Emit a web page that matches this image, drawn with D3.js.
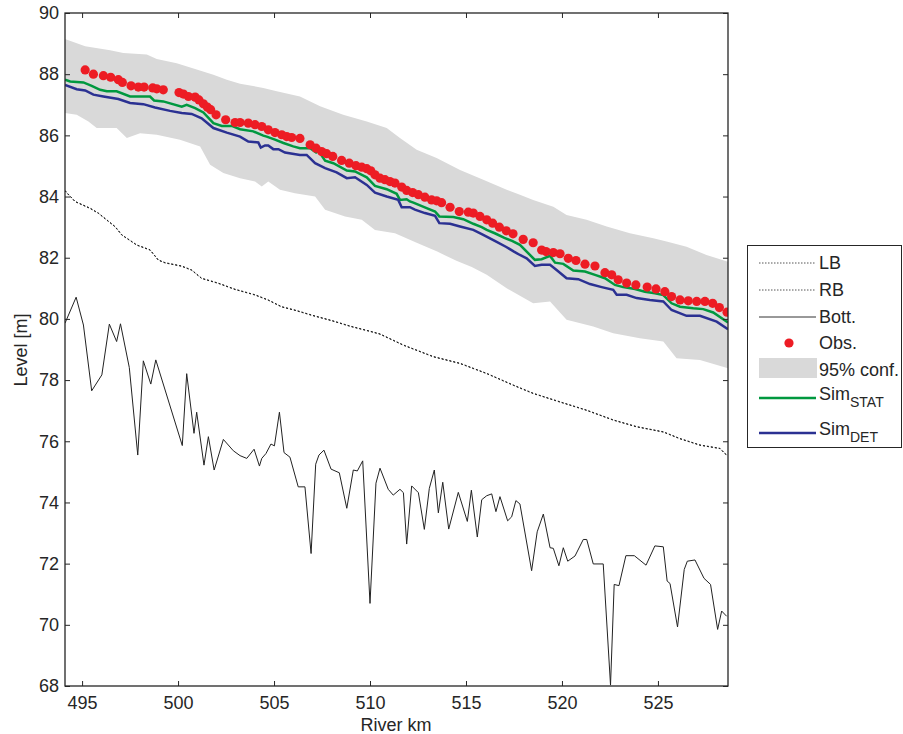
<!DOCTYPE html>
<html><head><meta charset="utf-8">
<script src="https://cdn.jsdelivr.net/npm/d3@7"></script>
<style>body{margin:0;background:#fff;} svg{display:block;font-family:"Liberation Sans",Arial,sans-serif;}</style>
</head><body><div id="chart"></div>
<script>
// ---- data ----
const xTicks = [495, 500, 505, 510, 515, 520, 525];
const yTicks = [68, 70, 72, 74, 76, 78, 80, 82, 84, 86, 88, 90];

const bottKm = [494.11,494.69,495.07,495.5,496.03,496.42,496.8,497.0,497.46,497.9,498.19,498.58,498.84,500.22,500.45,500.83,500.97,501.35,501.58,501.88,502.36,502.88,503.23,503.58,503.96,504.24,504.36,504.58,504.84,505.02,505.28,505.52,505.83,506.26,506.61,506.93,507.17,507.34,507.6,507.97,508.4,508.79,509.13,509.34,509.62,510.0,510.31,510.52,510.95,511.21,511.56,511.74,511.91,512.17,512.52,512.83,513.09,513.35,513.56,513.79,514.1,514.6,515.07,515.28,515.59,515.82,516.08,516.34,516.56,516.77,517.17,517.38,517.6,517.81,518.42,518.71,519.03,519.38,519.55,519.84,520.07,520.3,520.68,521.11,521.29,521.63,522.15,522.53,522.72,522.97,523.33,523.77,524.38,524.84,525.28,525.48,525.63,526.02,526.37,526.53,526.93,527.4,527.74,528.11,528.32,528.58];
const bottLevel = [79.86,80.71,79.8,77.65,78.17,79.83,79.26,79.84,78.41,75.55,78.63,77.87,78.66,75.86,78.21,76.26,76.95,75.22,76.15,75.06,76.06,75.69,75.53,75.44,75.74,75.19,75.44,75.6,75.91,75.85,76.95,75.63,75.48,74.51,74.51,72.33,75.25,75.55,75.71,75.09,74.97,73.81,75.06,75.03,75.36,70.7,74.63,75.12,74.43,74.24,74.43,74.32,72.64,74.54,74.32,73.12,74.46,75.06,73.66,74.66,73.13,74.33,73.38,74.4,72.87,74.09,74.22,74.28,73.7,74.19,73.4,73.53,74.06,73.95,71.77,73.04,73.62,72.52,72.5,71.93,72.52,72.08,72.25,72.79,72.79,71.99,71.99,68.03,71.32,71.28,72.26,72.26,71.95,72.58,72.55,71.43,71.35,69.93,71.81,72.08,72.12,71.52,71.32,69.85,70.45,70.28];

const lbKm = [494.11,494.2,494.64,495.42,495.85,496.72,497.07,497.85,498.54,498.97,499.32,500.19,500.71,501.23,502.1,502.97,504.01,504.7,505.4,506.09,507.0,508.0,509.0,510.0,510.52,511.73,513.3,514.69,516.08,517.46,518.5,519.9,521.28,522.67,523.89,525.28,526.15,527.19,528.23,528.58];
const lbLevel = [84.2,84.13,83.84,83.62,83.46,83.02,82.75,82.42,82.26,81.93,81.84,81.73,81.6,81.33,81.17,80.97,80.79,80.62,80.4,80.29,80.12,79.95,79.76,79.6,79.51,79.15,78.77,78.55,78.22,77.84,77.57,77.29,77.02,76.7,76.48,76.31,76.09,75.88,75.77,75.55];
const rbKm = [494.11,494.2,494.64,495.42,495.85,496.72,497.07,497.85,498.54,498.97,499.32,500.19,500.71,501.23,502.1,502.97,504.01,504.7,505.4,506.09,507.0,508.0,509.0,510.0,510.52,511.73,513.3,514.69,516.08,517.46,518.5,519.9,521.28,522.67,523.89,525.28,526.15,527.19,528.23,528.58];
const rbLevel = [84.19,84.12,83.83,83.61,83.45,83.01,82.74,82.41,82.25,81.92,81.83,81.72,81.59,81.32,81.16,80.96,80.78,80.61,80.39,80.28,80.11,79.94,79.75,79.59,79.5,79.14,78.76,78.54,78.21,77.83,77.56,77.28,77.01,76.69,76.47,76.3,76.08,75.87,75.76,75.54];

const obsKm = [495.16,495.59,496.11,496.49,496.89,497.1,497.55,497.93,498.23,498.68,498.89,499.23,500.05,500.28,500.54,500.89,501.09,501.32,501.53,501.7,501.98,502.48,502.97,503.23,503.66,504.01,504.36,504.7,505.05,505.4,505.66,505.92,506.35,506.88,507.19,507.48,507.74,508.06,508.52,508.92,509.27,509.57,509.83,510.04,510.26,510.52,510.78,511.04,511.3,511.65,511.91,512.22,512.52,512.86,513.21,513.47,513.73,514.17,514.65,515.12,515.38,515.73,516.08,516.39,516.74,517.1,517.45,517.98,518.5,518.94,519.17,519.55,519.9,520.33,520.73,521.2,521.72,522.24,522.59,522.93,523.37,523.85,524.44,524.9,525.36,525.71,526.15,526.58,527.02,527.45,527.85,528.2,528.6];
const obsLevel = [88.14,88.0,87.95,87.9,87.82,87.73,87.62,87.58,87.58,87.55,87.52,87.49,87.4,87.35,87.27,87.25,87.16,87.03,86.92,86.84,86.67,86.51,86.42,86.42,86.4,86.35,86.29,86.18,86.09,86.02,85.96,85.93,85.9,85.69,85.58,85.47,85.4,85.31,85.18,85.09,85.01,84.96,84.91,84.84,84.71,84.6,84.55,84.49,84.44,84.31,84.2,84.13,84.06,83.98,83.89,83.86,83.8,83.65,83.51,83.49,83.46,83.35,83.24,83.13,83.0,82.88,82.78,82.6,82.49,82.25,82.2,82.17,82.13,81.98,81.91,81.79,81.73,81.51,81.44,81.28,81.17,81.11,81.04,80.98,80.89,80.73,80.62,80.59,80.57,80.57,80.51,80.37,80.22];

const statKm = [494.11,494.38,495.07,495.5,495.94,496.29,496.8,497.5,498.54,498.75,499.23,500.19,500.45,500.89,501.32,501.84,502.28,502.8,503.23,503.92,504.44,504.62,505.05,505.49,506.0,506.35,506.88,507.19,507.31,507.66,508.09,508.79,509.22,509.83,510.26,510.87,511.39,511.56,511.91,512.08,512.26,512.95,513.39,513.61,514.34,514.86,515.38,515.82,516.08,516.5,517.0,517.4,517.81,518.59,518.94,519.38,519.64,520.07,520.59,521.2,521.72,522.24,522.76,523.19,523.8,524.32,524.84,525.28,525.71,526.15,526.84,527.36,527.88,528.65];
const statLevel = [87.82,87.76,87.73,87.62,87.49,87.44,87.44,87.27,87.27,87.14,87.11,86.94,87.0,86.89,86.75,86.4,86.31,86.31,86.2,86.13,85.99,85.96,85.86,85.75,85.64,85.58,85.58,85.44,85.5,85.17,85.09,84.85,84.82,84.63,84.35,84.24,84.09,83.89,83.91,83.84,83.8,83.62,83.51,83.35,83.33,83.26,83.11,83.0,82.91,82.8,82.65,82.55,82.42,81.93,81.95,82.06,81.84,81.8,81.58,81.55,81.44,81.33,81.11,81.04,80.98,80.89,80.84,80.78,80.51,80.4,80.35,80.32,80.21,79.88];

const detKm = [494.11,494.72,495.16,495.59,496.11,496.89,497.5,498.19,498.8,499.58,500.19,500.71,501.23,501.84,502.54,503.23,503.66,504.18,504.31,504.53,504.7,504.96,505.23,505.57,506.35,506.7,507.14,507.66,508.26,508.79,509.22,509.83,510.26,510.87,511.47,511.65,512.08,512.34,512.86,513.39,513.61,514.17,514.69,515.38,515.9,516.5,517.1,517.5,517.81,518.16,518.59,518.94,519.38,519.72,520.24,520.85,521.46,522.07,522.67,522.85,523.37,523.89,524.58,525.28,525.71,526.49,527.19,528.06,528.65];
const detLevel = [87.65,87.51,87.47,87.33,87.27,87.19,87.06,87.02,86.91,86.8,86.73,86.7,86.56,86.24,86.09,85.96,85.8,85.77,85.6,85.67,85.67,85.55,85.55,85.44,85.36,85.36,85.09,84.93,84.79,84.6,84.63,84.38,84.13,84.0,83.89,83.65,83.65,83.57,83.46,83.37,83.13,83.11,83.02,82.91,82.75,82.55,82.35,82.2,82.09,81.98,81.73,81.77,81.77,81.6,81.33,81.3,81.14,81.04,80.95,80.79,80.79,80.68,80.62,80.57,80.29,80.1,80.1,79.91,79.66];

const upKm = [494.11,495.16,496.46,497.15,498.37,498.89,499.93,500.97,501.84,502.54,503.23,504.44,505.14,506.35,507.4,508.6,509.83,510.87,511.56,512.43,513.47,514.69,515.9,517.12,517.81,518.5,519.55,520.24,521.28,522.33,523.54,524.76,525.45,526.49,527.53,528.65];
const upLevel = [89.15,88.91,88.78,88.69,88.64,88.5,88.36,88.15,87.98,87.82,87.69,87.55,87.44,87.27,86.95,86.67,86.45,86.24,85.91,85.53,85.26,84.87,84.55,84.22,84.06,83.89,83.67,83.4,83.24,83.02,82.8,82.64,82.53,82.36,82.09,81.87];
const loKm = [494.11,494.72,495.33,495.76,496.8,497.33,498.02,498.89,500.1,501.15,501.67,502.36,503.23,504.01,504.36,504.7,505.31,506.09,507.14,507.66,508.7,509.57,510.26,511.3,512.4,513.5,514.5,515.3,516.08,517.12,518.5,519.38,520.24,521.63,522.67,524.06,525.28,525.97,527.19,528.65];
const loLevel = [86.73,86.67,86.45,86.24,86.24,85.91,86.07,86.02,85.86,85.64,85.04,84.77,84.6,84.49,84.33,84.49,84.22,84.11,84.0,83.57,83.35,83.24,82.91,82.8,82.5,82.2,81.9,81.7,81.44,81.0,80.51,80.57,79.97,79.75,79.53,79.37,79.26,78.71,78.66,78.39];

// ---- layout ----
const W = 903, H = 734;
const svg = d3.select("#chart").append("svg").attr("width", W).attr("height", H);
const x = d3.scaleLinear().domain([494.11, 528.65]).range([65, 728]);
const y = d3.scaleLinear().domain([68, 90]).range([686, 13]);

svg.append("defs").append("clipPath").attr("id", "clip")
  .append("rect").attr("x", 65).attr("y", 13).attr("width", 663).attr("height", 673);
const g = svg.append("g").attr("clip-path", "url(#clip)");

const zip = (a, b) => a.map((v, i) => [v, b[i]]);
const line = d3.line().x(d => x(d[0])).y(d => y(d[1]));

// band
const bandPoly = zip(upKm, upLevel).concat(zip(loKm, loLevel).reverse());
g.append("path").attr("d", line(bandPoly) + "Z").attr("fill", "#d9d9d9").attr("stroke", "none");

g.append("path").attr("d", line(zip(lbKm, lbLevel))).attr("fill", "none")
  .attr("stroke", "#222").attr("stroke-width", 1).attr("stroke-dasharray", "2,2");
g.append("path").attr("d", line(zip(rbKm, rbLevel))).attr("fill", "none")
  .attr("stroke", "#222").attr("stroke-width", 1).attr("stroke-dasharray", "2,2");
g.append("path").attr("d", line(zip(bottKm, bottLevel))).attr("fill", "none")
  .attr("stroke", "#222").attr("stroke-width", 1);

g.append("path").attr("d", line(zip(statKm, statLevel))).attr("fill", "none")
  .attr("stroke", "#00983f").attr("stroke-width", 2.5);
g.append("path").attr("d", line(zip(detKm, detLevel))).attr("fill", "none")
  .attr("stroke", "#2b3192").attr("stroke-width", 2.5);

g.selectAll("circle.obs").data(zip(obsKm, obsLevel)).enter().append("circle")
  .attr("class", "obs").attr("cx", d => x(d[0])).attr("cy", d => y(d[1])).attr("r", 4.6)
  .attr("fill", "#ed1c24");

// axes
const axCol = "#262626";
const fs = "18px";
const axB = svg.append("g").attr("transform", "translate(0,686)")
  .call(d3.axisBottom(x).tickValues(xTicks).tickSizeInner(-5).tickSizeOuter(0).tickPadding(10).tickFormat(d3.format("d")));
const axT = svg.append("g").attr("transform", "translate(0,13)")
  .call(d3.axisTop(x).tickValues(xTicks).tickSizeInner(-5).tickSizeOuter(0).tickFormat(""));
const axL = svg.append("g").attr("transform", "translate(65,0)")
  .call(d3.axisLeft(y).tickValues(yTicks).tickSizeInner(-5).tickSizeOuter(0).tickPadding(6).tickFormat(d3.format("d")));
const axR = svg.append("g").attr("transform", "translate(728,0)")
  .call(d3.axisRight(y).tickValues(yTicks).tickSizeInner(-5).tickSizeOuter(0).tickFormat(""));
[axB, axT, axL, axR].forEach(a => {
  a.select(".domain").remove();
  a.selectAll("line").attr("stroke", axCol).attr("stroke-width", 1);
  a.selectAll("text").attr("fill", axCol).style("font-size", fs);
});
axB.selectAll("text").attr("dy", "0.71em");
svg.append("rect").attr("x", 65).attr("y", 13).attr("width", 663).attr("height", 673)
  .attr("fill", "none").attr("stroke", axCol).attr("stroke-width", 1.3);

svg.append("text").attr("x", 396).attr("y", 731).attr("text-anchor", "middle")
  .attr("fill", axCol).style("font-size", fs).text("River km");
svg.append("text").attr("transform", "translate(27,350) rotate(-90)").attr("text-anchor", "middle")
  .attr("fill", axCol).style("font-size", fs).text("Level [m]");

// legend
const lg = svg.append("g");
lg.append("rect").attr("x", 747.5).attr("y", 245.5).attr("width", 154).attr("height", 202)
  .attr("fill", "#fff").attr("stroke", axCol).attr("stroke-width", 1);
const lx0 = 759, lx1 = 816, tx = 819;
const items = [
  {type: "dot", label: "LB", y: 263},
  {type: "dot", label: "RB", y: 290},
  {type: "solid", label: "Bott.", y: 317},
  {type: "obs", label: "Obs.", y: 343},
  {type: "band", label: "95% conf.", y: 370},
  {type: "stat", label: "Sim", sub: "STAT", y: 398},
  {type: "det", label: "Sim", sub: "DET", y: 433}
];
items.forEach(it => {
  if (it.type === "dot" || it.type === "solid") {
    lg.append("line").attr("x1", lx0).attr("x2", lx1).attr("y1", it.y).attr("y2", it.y)
      .attr("stroke", it.type === "dot" ? "#555" : "#333").attr("stroke-width", 1)
      .attr("stroke-dasharray", it.type === "dot" ? "1.5,1.5" : null);
  } else if (it.type === "obs") {
    lg.append("circle").attr("cx", 789).attr("cy", it.y).attr("r", 4.6).attr("fill", "#ed1c24");
  } else if (it.type === "band") {
    lg.append("rect").attr("x", lx0).attr("y", it.y - 12).attr("width", lx1 - lx0 + 1).attr("height", 20).attr("fill", "#d9d9d9");
  } else {
    lg.append("line").attr("x1", lx0).attr("x2", lx1).attr("y1", it.y).attr("y2", it.y)
      .attr("stroke", it.type === "stat" ? "#00983f" : "#2b3192").attr("stroke-width", 2.5);
  }
  const t = lg.append("text").attr("x", tx).attr("y", it.type === "stat" || it.type === "det" ? it.y + 2 : it.y + 6)
    .attr("fill", axCol).style("font-size", fs).text(it.label);
  if (it.sub) t.append("tspan").attr("dy", 7).style("font-size", "14px").text(it.sub);
});
</script></body></html>
